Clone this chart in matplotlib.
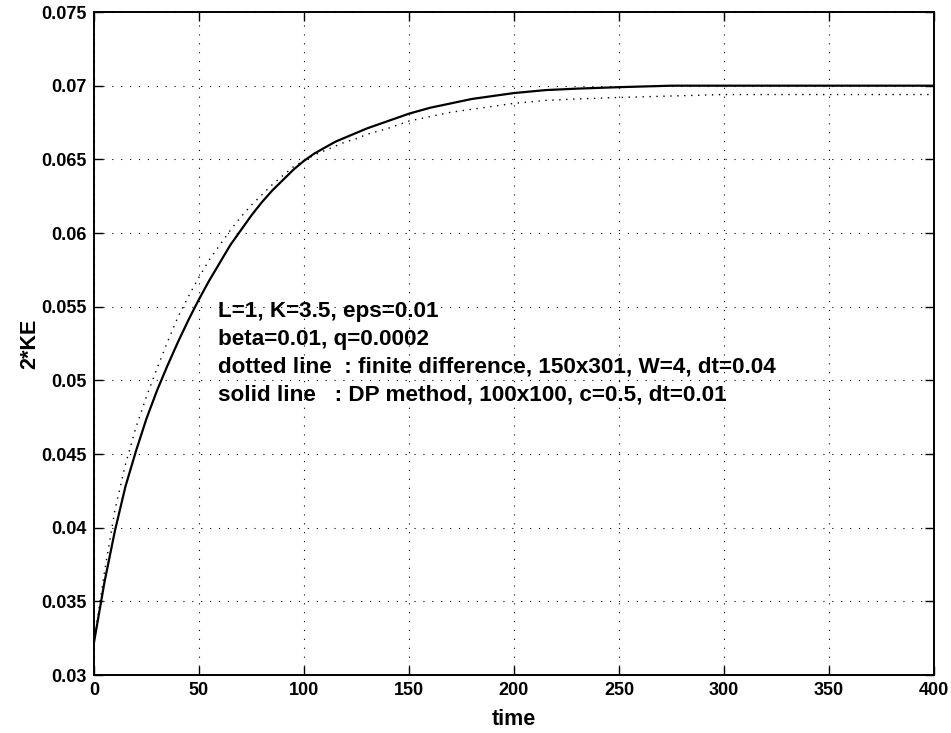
import matplotlib
matplotlib.use('Agg')
import matplotlib.pyplot as plt

plt.rcParams['font.family'] = ['Liberation Sans', 'DejaVu Sans']
plt.rcParams['font.weight'] = 'bold'

time = [0, 5, 10, 15, 20, 25, 30, 35, 40, 45, 50, 55, 60, 65, 70, 75, 80, 85,
        90, 95, 100, 105, 110, 115, 120, 125, 130, 140, 150, 160, 170, 180,
        190, 200, 215, 230, 250, 275, 300, 350, 400]

# solid line: DP method
ke_dp = [0.0322, 0.0363, 0.0398, 0.0428, 0.0452, 0.0474, 0.0493, 0.0510, 0.0526,
         0.0541, 0.0555, 0.0568, 0.0580, 0.0592, 0.0602, 0.0612, 0.0621, 0.0629,
         0.0636, 0.0643, 0.0649, 0.0654, 0.0658, 0.0662, 0.0665, 0.0668, 0.0671,
         0.0676, 0.0681, 0.0685, 0.0688, 0.0691, 0.0693, 0.0695, 0.0697, 0.0698,
         0.0699, 0.0700, 0.0700, 0.0700, 0.0700]

# dotted line: finite difference
ke_fd = [0.0322, 0.0370, 0.0412, 0.0443, 0.0468, 0.0489, 0.0508, 0.0526, 0.0543,
         0.0557, 0.0570, 0.0582, 0.0592, 0.0602, 0.0611, 0.0619, 0.0626, 0.0633,
         0.0639, 0.0645, 0.0649, 0.0653, 0.0656, 0.0659, 0.0662, 0.0664, 0.0667,
         0.0671, 0.0676, 0.0679, 0.0682, 0.0684, 0.0686, 0.0688, 0.0690, 0.0691,
         0.0692, 0.0693, 0.0694, 0.0694, 0.0694]

xticks = [0, 50, 100, 150, 200, 250, 300, 350, 400]
yticks = [0.03, 0.035, 0.04, 0.045, 0.05, 0.055, 0.06, 0.065, 0.07, 0.075]
ytick_labels = ['0.03', '0.035', '0.04', '0.045', '0.05', '0.055', '0.06',
                '0.065', '0.07', '0.075']

notes = ['L=1, K=3.5, eps=0.01',
         'beta=0.01, q=0.0002',
         'dotted line  : finite difference, 150x301, W=4, dt=0.04',
         'solid line   : DP method, 100x100, c=0.5, dt=0.01']

fig = plt.figure(figsize=(9.51, 7.33), dpi=100)
ax = fig.add_axes([0.0988, 0.0791, 0.8833, 0.9045])

ax.plot(time, ke_fd, color='black', lw=1.0, linestyle=(0, (1, 4)))
ax.plot(time, ke_dp, color='black', lw=1.6)

ax.set_xlim(0, 400)
ax.set_ylim(0.03, 0.075)
ax.set_xticks(xticks)
ax.set_yticks(yticks)
ax.set_yticklabels(ytick_labels)
ax.grid(True, color='black', linestyle=(0, (1, 7)), lw=0.8)

ax.tick_params(direction='in', length=6.3, width=1, top=True, right=True,
               labelsize=13, pad=5)
for lab in ax.get_xticklabels() + ax.get_yticklabels():
    lab.set_fontweight('bold')
for sp in ax.spines.values():
    sp.set_linewidth(1.4)

ax.set_xlabel('time', fontsize=15.5, fontweight='bold', labelpad=7)
ax.set_ylabel('2*KE', fontsize=15.5, fontweight='bold', labelpad=1)

for i, line in enumerate(notes):
    ax.text(59, 0.0547 - i * 0.0019, line, fontsize=16.2, fontweight='bold',
            va='center', ha='left')

fig.savefig('out.png', dpi=100)
